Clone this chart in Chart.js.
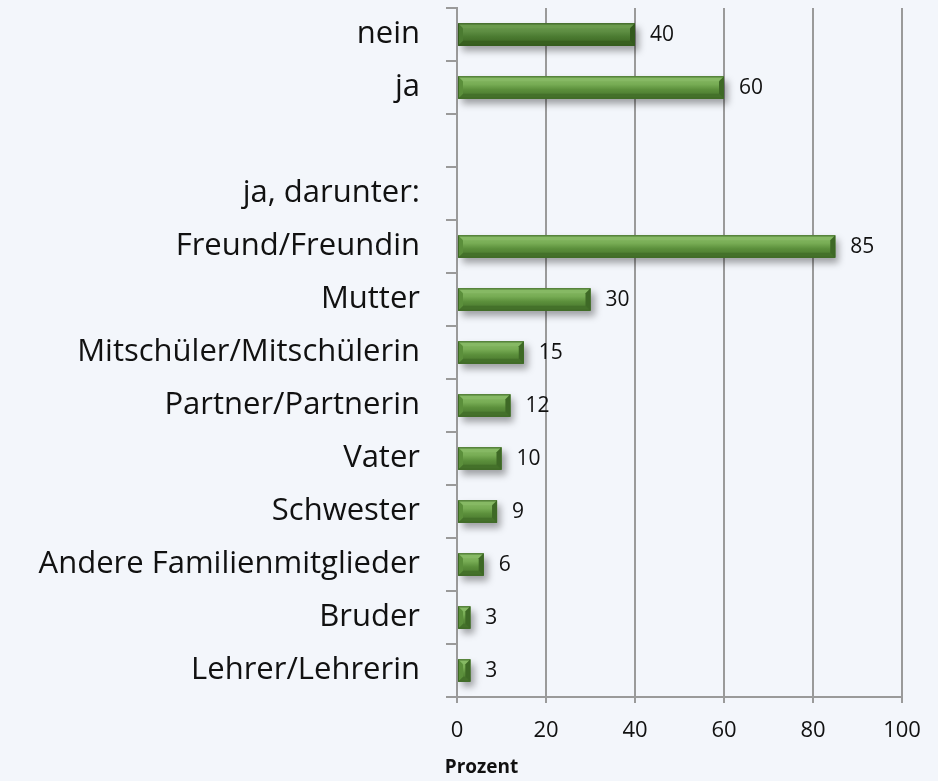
<!DOCTYPE html>
<html>
<head>
<meta charset="utf-8">
<script src="https://cdn.jsdelivr.net/npm/chart.js@4/dist/chart.umd.min.js"></script>
<style>
  html, body { margin: 0; padding: 0; background: #f3f6fb; }
  #wrap { width: 938px; height: 781px; }
</style>
</head>
<body>
<div id="wrap"><canvas id="grafico" width="938" height="781"></canvas></div>
<script>
// Kategorien und Werte (Prozent), leere Zeilen bleiben null
const kategorien = [
  'nein', 'ja', '', 'ja, darunter:', 'Freund/Freundin', 'Mutter',
  'Mitschüler/Mitschülerin', 'Partner/Partnerin', 'Vater', 'Schwester',
  'Andere Familienmitglieder', 'Bruder', 'Lehrer/Lehrerin'
];
const werte = [40, 60, null, null, 85, 30, 15, 12, 10, 9, 6, 3, 3];
const xTicks = [0, 20, 40, 60, 80, 100];
const achsenTitel = 'Prozent';

const FONT = "'Open Sans', sans-serif";

// Farbpaletten für den Bevel-Effekt
const paletten = {
  dunkel: { base: '#4b7b31', hell: '#6a9a4c', glanz: '#5e8e43', schatten: '#38601f', rand: '#345a1e' },
  normal: { base: '#5b8f3b', hell: '#86b964', glanz: '#78ad55', schatten: '#44712a', rand: '#3e6926' }
};

const bevelPlugin = {
  id: 'bevel',
  beforeDatasetsDraw(chart) {
    const ctx = chart.ctx;
    ctx.save();
    ctx.shadowColor = 'rgba(0,0,0,0.35)';
    ctx.shadowBlur = 7;
    ctx.shadowOffsetX = 4;
    ctx.shadowOffsetY = 5;
  },
  afterDatasetsDraw(chart) {
    const ctx = chart.ctx;
    ctx.restore();
    const meta = chart.getDatasetMeta(0);
    meta.data.forEach((bar, i) => {
      const v = werte[i];
      if (v === null) return;
      const p = i === 0 ? paletten.dunkel : paletten.normal;
      const l = Math.min(bar.base, bar.x), r = Math.max(bar.base, bar.x);
      const t = bar.y - bar.height / 2, b = bar.y + bar.height / 2;
      const e = Math.min(5, (r - l) / 2);
      // Grundfläche mit Verlauf
      const g = ctx.createLinearGradient(0, t, 0, b);
      g.addColorStop(0, p.hell);
      g.addColorStop(0.35, p.glanz);
      g.addColorStop(0.6, p.base);
      g.addColorStop(1, p.schatten);
      ctx.fillStyle = g;
      ctx.fillRect(l, t, r - l, b - t);
      // Kanten
      const poly = (pts, c) => {
        ctx.beginPath();
        ctx.moveTo(pts[0][0], pts[0][1]);
        pts.slice(1).forEach(pt => ctx.lineTo(pt[0], pt[1]));
        ctx.closePath();
        ctx.fillStyle = c;
        ctx.fill();
      };
      poly([[l, t], [r, t], [r - e, t + e], [l + e, t + e]], p.hell);
      poly([[l, b], [r, b], [r - e, b - e], [l + e, b - e]], p.schatten);
      poly([[r, t], [r, b], [r - e, b - e], [r - e, t + e]], p.rand);
      poly([[l, t], [l, b], [l + e, b - e], [l + e, t + e]], p.base);
      ctx.strokeStyle = p.rand;
      ctx.lineWidth = 1;
      ctx.strokeRect(l + 0.5, t + 0.5, r - l - 1, b - t - 1);
      // Wertbeschriftung
      ctx.fillStyle = '#111';
      ctx.font = '21px ' + FONT;
      ctx.textAlign = 'left';
      ctx.textBaseline = 'middle';
      ctx.fillText(String(v), r + 15, bar.y + 1);
    });
  },
  afterDraw(chart) {
    // Achsentitel sitzt links unter der x-Achse, nicht mittig
    const ctx = chart.ctx;
    const x = chart.scales.x;
    ctx.save();
    ctx.fillStyle = '#111';
    ctx.font = 'bold 19px ' + FONT;
    ctx.textAlign = 'center';
    ctx.textBaseline = 'middle';
    ctx.fillText(achsenTitel, x.getPixelForValue(5.5), x.bottom - 13);
    ctx.restore();
  }
};

new Chart(document.getElementById('grafico'), {
  type: 'bar',
  data: {
    labels: kategorien,
    datasets: [{
      data: werte,
      backgroundColor: c => c.dataIndex === 0 ? paletten.dunkel.base : paletten.normal.base,
      categoryPercentage: 1,
      barPercentage: 0.42
    }]
  },
  options: {
    indexAxis: 'y',
    responsive: false,
    animation: false,
    layout: { padding: { top: 8, right: 36, left: 0, bottom: 0 } },
    plugins: {
      legend: { display: false },
      tooltip: { enabled: false }
    },
    scales: {
      x: {
        min: 0,
        max: 100,
        afterBuildTicks: s => { s.ticks = xTicks.map(v => ({ value: v })); },
        afterFit: s => { s.height = 84; s.paddingLeft = 0; s.paddingRight = 0; },
        grid: { color: '#9a9a9a', lineWidth: 2, tickLength: 6 },
        border: { color: '#9a9a9a', width: 2 },
        ticks: { color: '#111', font: { family: FONT, size: 22 }, padding: 15 }
      },
      y: {
        offset: true,
        afterFit: s => { s.width = 457; s.paddingTop = 0; s.paddingBottom = 0; },
        grid: { offset: true, drawOnChartArea: false, color: '#9a9a9a', lineWidth: 2, tickLength: 11 },
        border: { color: '#9a9a9a', width: 2 },
        ticks: { color: '#111', font: { family: FONT, size: 31 }, padding: 26, autoSkip: false }
      }
    }
  },
  plugins: [bevelPlugin]
});
</script>
</body>
</html>
